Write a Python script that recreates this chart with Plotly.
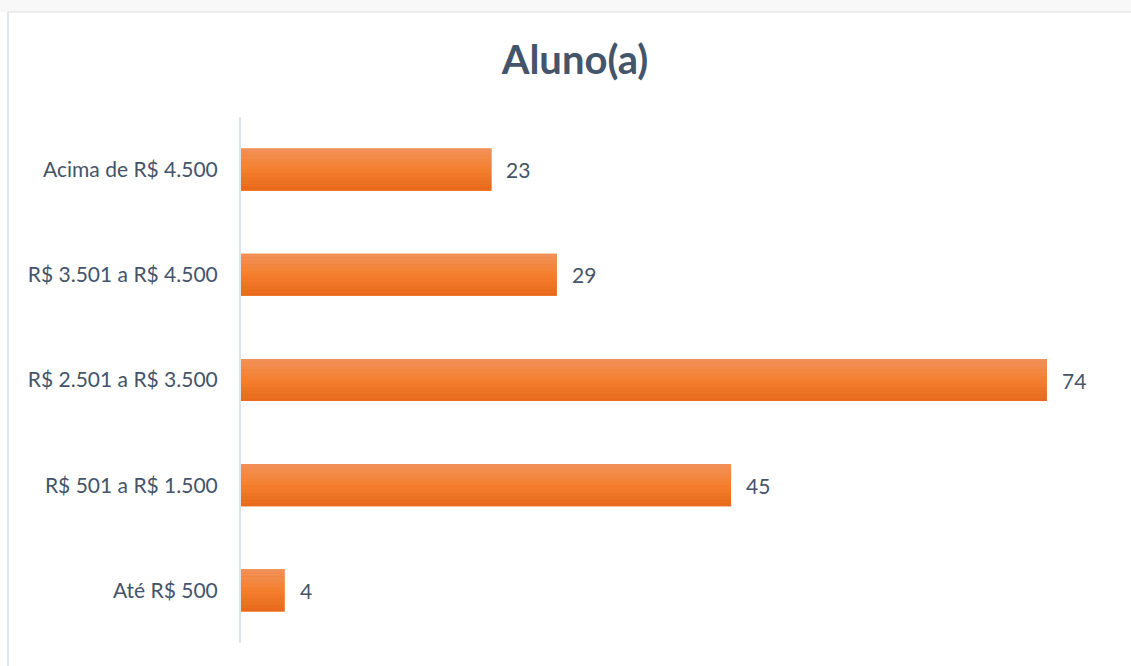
import plotly.graph_objects as go

categories = ["Até R$ 500", "R$ 501 a R$ 1.500", "R$ 2.501 a R$ 3.500",
              "R$ 3.501 a R$ 4.500", "Acima de R$ 4.500"]
values = [4, 45, 74, 29, 23]
title_text = "Aluno(a)"

text_color = "#44546A"
font_family = "Lato, 'Open Sans', sans-serif"

fig = go.Figure()

# base bar (solid)
fig.add_trace(go.Bar(
    y=categories, x=values, orientation="h",
    width=0.4, offset=-0.2,
    marker=dict(color="#F27E2E", line=dict(width=0)),
    showlegend=False, hoverinfo="x+y",
))

# gradient bands (dark at bottom -> light at top)
def lerp(c1, c2, t):
    a = [int(c1[i:i + 2], 16) for i in (1, 3, 5)]
    b = [int(c2[i:i + 2], 16) for i in (1, 3, 5)]
    return "#%02x%02x%02x" % tuple(round(a[k] + (b[k] - a[k]) * t) for k in range(3))

bottom_c, mid_c, top_c = "#E7681C", "#F47F2D", "#F0925C"
N = 12
bw = 0.4 / N
for i in range(N):
    t = (i + 0.5) / N
    if t < 0.5:
        col = lerp(bottom_c, mid_c, t / 0.5)
    else:
        col = lerp(mid_c, top_c, (t - 0.5) / 0.5)
    fig.add_trace(go.Bar(
        y=categories, x=values, orientation="h",
        width=bw * 1.02, offset=-0.2 + i * bw,
        marker=dict(color=col, line=dict(width=0)),
        showlegend=False, hoverinfo="skip",
    ))

annotations = [
    dict(x=v, y=c, text=str(v), xref="x", yref="y", xanchor="left",
         yanchor="middle", showarrow=False, xshift=13,
         font=dict(size=21, color=text_color, family=font_family))
    for c, v in zip(categories, values)
]

W, H = 1131, 666
L, R, T, B = 241, 21, 117, 23
pw, ph = W - L - R, H - T - B

def px_x(p):
    return (p - L) / pw

def px_y(p):
    return (H - B - p) / ph

shapes = [
    dict(type="rect", xref="paper", yref="paper",
         x0=px_x(0), x1=px_x(W), y0=px_y(12), y1=px_y(0),
         fillcolor="#F8F8F8", line=dict(width=0), layer="below"),
    dict(type="line", xref="paper", yref="paper",
         x0=px_x(8), x1=px_x(W), y0=px_y(12), y1=px_y(12),
         line=dict(color="#E9E9E9", width=1.5)),
    dict(type="line", xref="paper", yref="paper",
         x0=px_x(8), x1=px_x(8), y0=px_y(12), y1=px_y(H),
         line=dict(color="#E1E5EC", width=2)),
]

fig.update_layout(
    width=W, height=H,
    margin=dict(l=L, r=R, t=T, b=B),
    paper_bgcolor="white", plot_bgcolor="white",
    barmode="overlay",
    title=dict(text="<b>" + title_text + "</b>", x=575 / W, xref="container",
               y=1 - 60 / H, yref="container", yanchor="middle", xanchor="center",
               font=dict(size=40, color=text_color, family=font_family)),
    xaxis=dict(range=[0, 79.8], showgrid=False, zeroline=False,
               showticklabels=False, showline=False, fixedrange=True),
    yaxis=dict(categoryorder="array", categoryarray=categories,
               showgrid=False, zeroline=False, showline=True,
               linecolor="#DDE1E8", linewidth=2,
               ticks="", ticklabelstandoff=17,
               tickfont=dict(size=21, color=text_color, family=font_family)),
    annotations=annotations,
    shapes=shapes,
)

fig.write_html("out.html", config={"displayModeBar": False},
               post_script="document.body.style.margin='0';")
